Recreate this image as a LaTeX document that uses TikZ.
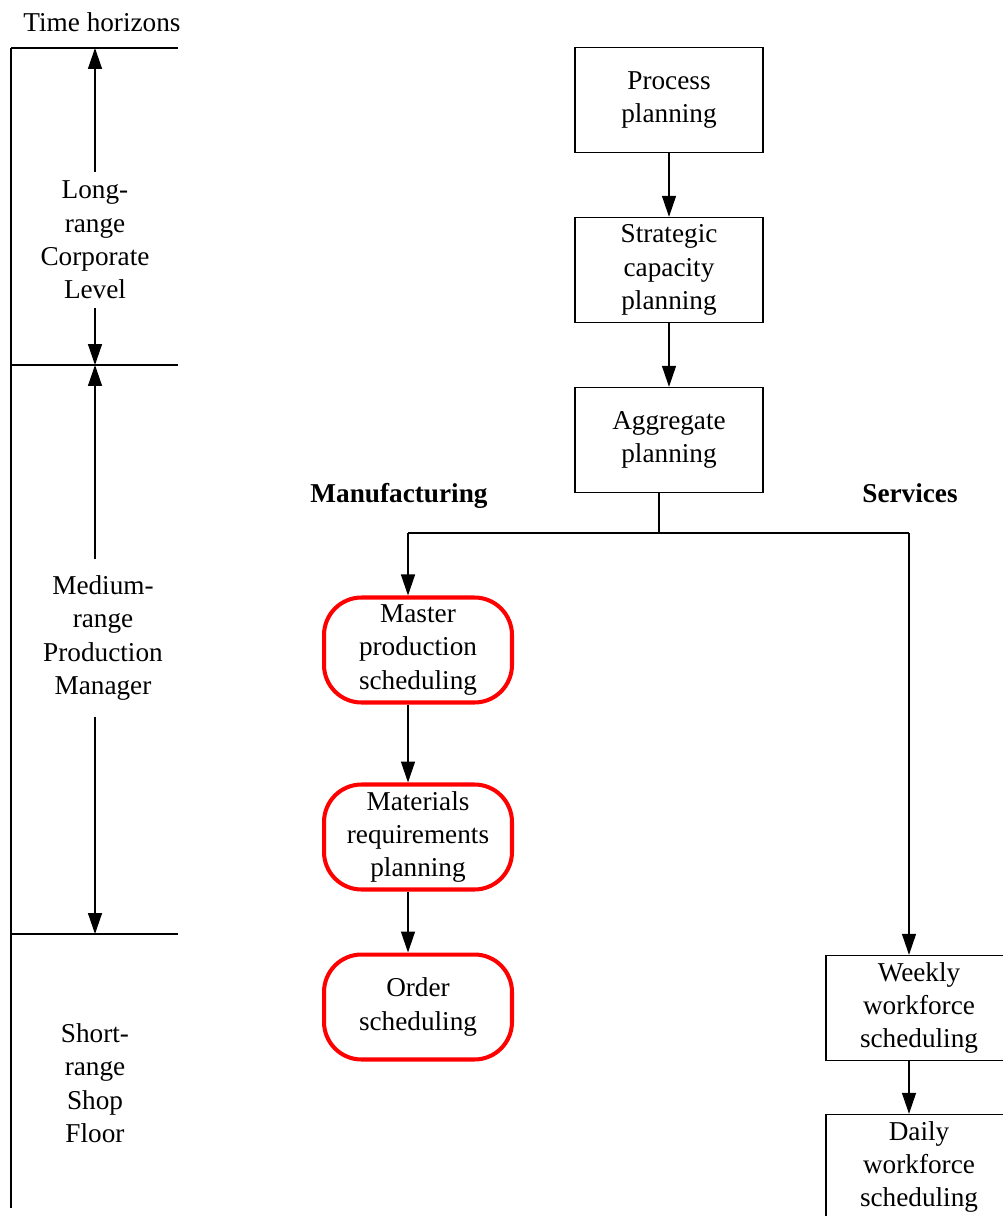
\documentclass[tikz,border=0pt]{standalone}
\usepackage{fontspec}
\setmainfont{Liberation Serif}
\usetikzlibrary{arrows.meta}
\tikzset{
	txt/.style={font=\fontsize{15.5pt}{19pt}\selectfont, align=center, inner sep=5pt},
	plainbox/.style={txt, draw, line width=0.8pt, minimum width=3.76cm, minimum height=2.1cm, inner sep=2pt},
	redbox/.style={txt, draw=red, line width=2.3pt, rounded corners=0.75cm, minimum width=3.76cm, minimum height=2.1cm, inner sep=2pt},
	sidelbl/.style={txt, anchor=base, font=\fontsize{15.5pt}{19pt}\selectfont\bfseries},
	arr/.style={-{Triangle[length=0.42cm,width=0.28cm]}, line width=0.8pt},
	rule/.style={line width=0.8pt}
}

\begin{document}
\begin{tikzpicture}[x=0.02cm, y=-0.02cm]
		%%%%% START %%%%%
		\useasboundingbox (0, 0) rectangle (1003, 1216);
		
		% time horizons on the left
		\node[txt] (horiz) at (102, 22) {Time horizons};
		\coordinate (hz1) at (95, 48);
		\coordinate (hz2) at (95, 365);
		\coordinate (hz3) at (95, 934);
		\draw[rule] (11, 48) -- (11, 1208);
		\draw[rule] (11, 48) -- (178, 48);
		\draw[rule] (11, 365) -- (178, 365);
		\draw[rule] (11, 934) -- (178, 934);
		
		\node[txt] (longtxt) at (95, 240) {Long-\\range\\Corporate\\Level};
		\draw[arr] (longtxt.north -| hz1) -- (hz1);
		\draw[arr] (longtxt.south -| hz2) -- (hz2);
		
		\node[txt, inner sep=9pt] (medtxt) at (103, 638) {Medium-\\range\\Production\\Manager};
		\draw[arr] (medtxt.north -| hz2) -- (hz2);
		\draw[arr] (medtxt.south -| hz3) -- (hz3);
		
		\node[txt] (shorttxt) at (95, 1083) {Short-\\range\\Shop\\Floor};
		
		% planning chain
		\node[plainbox] (proc) at (669, 100) {Process\\planning};
		\node[plainbox] (strat) at (669, 270) {Strategic\\capacity\\planning};
		\node[plainbox] (aggr) at (669, 440) {Aggregate\\planning};
		\draw[arr] (proc) -- (strat);
		\draw[arr] (strat) -- (aggr);
		
		\node[sidelbl] (mfglbl) at (399, 502) {Manufacturing};
		\node[sidelbl] (svclbl) at (910, 502) {Services};
		
		\coordinate (split) at (659, 533);
		\coordinate (mfg) at (408, 533);
		\coordinate (svc) at (909, 533);
		\draw[rule] (aggr.south -| split) -- (split);
		\draw[rule] (mfg) -- (svc);
		
		% manufacturing side
		\node[redbox] (mps) at (418, 650) {Master\\production\\scheduling};
		\node[redbox] (mrp) at (418, 837) {Materials\\requirements\\planning};
		\node[redbox] (order) at (418, 1007) {Order\\scheduling};
		\draw[arr] (mfg) -- (mfg |- mps.north);
		\draw[arr] (mps.south -| mfg) -- (mrp.north -| mfg);
		\draw[arr] (mrp.south -| mfg) -- (order.north -| mfg);
		
		% services side
		\node[plainbox, minimum width=3.72cm] (wkly) at (919, 1008) {Weekly\\workforce\\scheduling};
		\node[plainbox, minimum width=3.72cm] (daily) at (919, 1167) {Daily\\workforce\\scheduling};
		\draw[arr] (svc) -- (svc |- wkly.north);
		\draw[arr] (wkly.south -| svc) -- (daily.north -| svc);
		%%%%% END %%%%%
\end{tikzpicture}
\end{document}
